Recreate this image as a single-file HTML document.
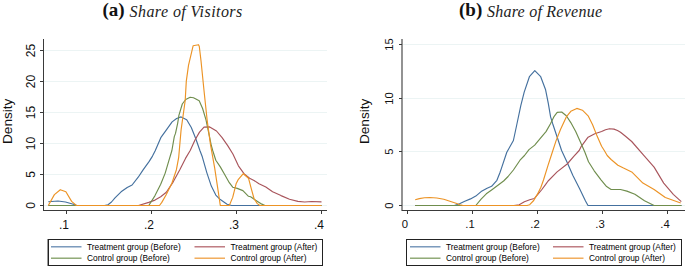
<!DOCTYPE html>
<html><head><meta charset="utf-8"><style>
html,body{margin:0;padding:0;background:#fff;}
body{width:685px;height:266px;overflow:hidden;position:relative;}
svg{position:absolute;left:0;top:0;}
.tk{font-family:"Liberation Sans",sans-serif;font-size:12px;fill:#111;}
.tk2{font-family:"Liberation Sans",sans-serif;font-size:11.3px;fill:#111;}
.ax{font-family:"Liberation Sans",sans-serif;font-size:13.6px;fill:#111;}
.lg{font-family:"Liberation Sans",sans-serif;font-size:8.33px;fill:#000;}
.tb{font-family:"Liberation Serif",serif;font-weight:bold;font-size:19px;fill:#111;}
.ti{font-family:"Liberation Serif",serif;font-style:italic;font-size:16px;fill:#222;}
</style></head><body>
<svg width="685" height="266" viewBox="0 0 685 266">
<text x="102.5" y="16" class="tb">(a)</text>
<text x="129.6" y="17" class="ti" textLength="112.6" lengthAdjust="spacing">Share of Visitors</text>
<text x="459" y="16" class="tb">(b)</text>
<text x="487" y="17" class="ti" textLength="115" lengthAdjust="spacing">Share of Revenue</text>
<line x1="44" y1="50.5" x2="327" y2="50.5" stroke="#ecf4f4" stroke-width="1"/>
<line x1="44" y1="81.5" x2="327" y2="81.5" stroke="#ecf4f4" stroke-width="1"/>
<line x1="44" y1="112.5" x2="327" y2="112.5" stroke="#ecf4f4" stroke-width="1"/>
<line x1="44" y1="143.5" x2="327" y2="143.5" stroke="#ecf4f4" stroke-width="1"/>
<line x1="44" y1="174.5" x2="327" y2="174.5" stroke="#ecf4f4" stroke-width="1"/>
<line x1="44" y1="205.5" x2="327" y2="205.5" stroke="#ecf4f4" stroke-width="1"/>
<polyline points="47.8,201.2 57.5,200.5 65,201.5 72,203.5 76,204.8 80,205 104,205 107.5,204.2 111,201.5 114.5,197.4 120.6,191.3 126.7,187 131.6,184.5 137.7,176.7 142.6,169.4 148.7,160.9 152,155.6 154.7,150.3 160.3,137.2 165.9,129.3 171.6,121.4 176.1,118 180.6,116.4 186.2,119.2 190.8,127 195.3,138.3 199.4,150 201.8,156.3 206.3,172.1 210.8,185.6 215.3,194.6 219.8,199.1 226.6,203.7 231,205 321,205" fill="none" stroke="#44709e" stroke-width="1.15" stroke-linejoin="round" transform="translate(0.5,0.5)"/>
<polyline points="47.8,205 138,205 148.3,201.9 154.5,199.6 160.2,196.2 165.8,191.7 172.6,181.6 179.3,169.2 185,157.9 189.7,150 194.5,139.5 199,131.6 203.5,126.6 209.2,126.4 216,130.5 221.6,137.2 227.2,145.1 232.4,153.5 237.9,165.3 243.5,173.2 249.1,177.7 253.5,179.9 258.5,183.3 265.3,186.6 272.1,191.2 280.5,195.1 289,198.8 297.4,200.9 304.2,201.5 311,201 321,201.4" fill="none" stroke="#a8545b" stroke-width="1.15" stroke-linejoin="round" transform="translate(0.5,0.5)"/>
<polyline points="47.8,205 148.3,205 154.5,195.1 160.2,183.8 164.7,172.6 168,161.3 171.4,150 173.8,136.1 175,132.9 177.2,122.6 178.4,114.8 181.8,103.5 185.2,99 189.7,96.8 193,97.2 198.7,100.2 202.1,108 205.5,119.3 208.8,135.1 210.8,145 212.2,150 215.3,159.7 219.8,166.4 224.3,174.3 228.8,182.2 232.2,186.7 236.7,187.9 242.4,190.1 248,195.8 250.1,196.3 255.1,199.7 260.2,203.1 264.5,205 321,205" fill="none" stroke="#6f8d4d" stroke-width="1.15" stroke-linejoin="round" transform="translate(0.5,0.5)"/>
<polyline points="47.8,205 53.9,194.1 59.8,189.2 65.4,191.3 71.1,200.9 75.6,204.8 76,205 159,205 161.3,201.9 165.8,194 171.4,182.7 175.9,169.2 178.2,156.8 180.6,129.3 184.7,100 185.8,80.6 188,64.8 192.6,45.3 198,44.2 198.8,46 200.5,60.3 203.5,90 206.6,119.3 210,144.1 214.2,167.6 217.6,190.1 219.8,205 228.8,205 232.2,196.9 235.6,183.3 237.9,178.8 242.8,173.2 248,177.7 250.9,188.7 253.5,198 256.8,203.1 259.4,205 321,205" fill="none" stroke="#ec9325" stroke-width="1.15" stroke-linejoin="round" transform="translate(0.5,0.5)"/>
<line x1="43.5" y1="39" x2="43.5" y2="211" stroke="#3a3a3a" stroke-width="1"/>
<line x1="43" y1="210.5" x2="327" y2="210.5" stroke="#3a3a3a" stroke-width="1"/>
<line x1="40" y1="50.5" x2="43" y2="50.5" stroke="#3a3a3a" stroke-width="1"/>
<line x1="40" y1="81.5" x2="43" y2="81.5" stroke="#3a3a3a" stroke-width="1"/>
<line x1="40" y1="112.5" x2="43" y2="112.5" stroke="#3a3a3a" stroke-width="1"/>
<line x1="40" y1="143.5" x2="43" y2="143.5" stroke="#3a3a3a" stroke-width="1"/>
<line x1="40" y1="174.5" x2="43" y2="174.5" stroke="#3a3a3a" stroke-width="1"/>
<line x1="40" y1="205.5" x2="43" y2="205.5" stroke="#3a3a3a" stroke-width="1"/>
<line x1="66.5" y1="211" x2="66.5" y2="214" stroke="#3a3a3a" stroke-width="1"/>
<line x1="151.5" y1="211" x2="151.5" y2="214" stroke="#3a3a3a" stroke-width="1"/>
<line x1="236.5" y1="211" x2="236.5" y2="214" stroke="#3a3a3a" stroke-width="1"/>
<line x1="321.5" y1="211" x2="321.5" y2="214" stroke="#3a3a3a" stroke-width="1"/>
<text x="0" y="0" transform="translate(34.5,50.5) rotate(-90)" class="tk" text-anchor="middle">25</text>
<text x="0" y="0" transform="translate(34.5,81.5) rotate(-90)" class="tk" text-anchor="middle">20</text>
<text x="0" y="0" transform="translate(34.5,112.5) rotate(-90)" class="tk" text-anchor="middle">15</text>
<text x="0" y="0" transform="translate(34.5,143.5) rotate(-90)" class="tk" text-anchor="middle">10</text>
<text x="0" y="0" transform="translate(34.5,174.5) rotate(-90)" class="tk" text-anchor="middle">5</text>
<text x="0" y="0" transform="translate(34.5,205.5) rotate(-90)" class="tk" text-anchor="middle">0</text>
<text x="64" y="228.5" class="tk" text-anchor="middle">.1</text>
<text x="149" y="228.5" class="tk" text-anchor="middle">.2</text>
<text x="234" y="228.5" class="tk" text-anchor="middle">.3</text>
<text x="319" y="228.5" class="tk" text-anchor="middle">.4</text>
<text x="0" y="0" transform="translate(11.7,121.3) rotate(-90)" class="ax" text-anchor="middle">Density</text>
<line x1="403" y1="44.5" x2="685" y2="44.5" stroke="#ecf4f4" stroke-width="1"/>
<line x1="403" y1="98.5" x2="685" y2="98.5" stroke="#ecf4f4" stroke-width="1"/>
<line x1="403" y1="151.5" x2="685" y2="151.5" stroke="#ecf4f4" stroke-width="1"/>
<line x1="403" y1="205.5" x2="685" y2="205.5" stroke="#ecf4f4" stroke-width="1"/>
<polyline points="414.7,205 453.8,205 459,203.3 464.3,200.7 470,198.4 475.3,195.6 480.6,191.1 486.6,187.7 491.1,185.8 496.4,179.8 499.4,172.3 501,167.6 506.3,151.8 512.9,140 516,125.5 520.3,105.1 523.7,91.6 528.9,76.2 534.3,70.2 540.2,76.2 545.1,89.3 547.8,102.9 550.1,116.4 552.2,123.2 556.7,136.7 561.1,150 566.7,162 572.4,175 579,188 585,200.5 587.5,205 681,205" fill="none" stroke="#44709e" stroke-width="1.15" stroke-linejoin="round" transform="translate(0.5,0.5)"/>
<polyline points="414.7,205 513.4,205 518.7,204.2 523.9,201.3 529.2,199.3 533.8,198 537.1,194.1 541,189.5 545,184.2 547.6,180.5 556.6,171.4 566.7,163.5 573.5,155.6 578.7,150 580.8,145.8 587.6,136.7 594.3,133.3 601.1,131 605,129.2 609,128.2 613.5,128.6 617,130 620,131.7 625,135.8 631.2,141 642.4,153.8 653.6,166.6 663.2,182.6 672.8,193.8 680.8,201.2" fill="none" stroke="#a8545b" stroke-width="1.15" stroke-linejoin="round" transform="translate(0.5,0.5)"/>
<polyline points="414.7,205 475.3,205 480.6,198.6 485.8,193.3 491.1,189.5 497.1,185 503.1,180.5 507.6,176 512.9,169.5 519.5,159.7 524,155 528.5,149.1 534.2,144.6 539.8,137.9 545.5,131.1 550,123.2 553.3,116.4 556.7,111.9 561.2,111.5 565.8,115.3 570.3,122.1 575.2,131.1 580.8,143.5 584.5,152 588,161.3 593.7,170.3 600.5,179.3 606.1,186.1 610.6,189 620,189 626.4,190.6 634.4,193.8 644,200.2 653.6,205 681,205" fill="none" stroke="#6f8d4d" stroke-width="1.15" stroke-linejoin="round" transform="translate(0.5,0.5)"/>
<polyline points="414.7,199.3 418.8,198.1 424,197.2 429.3,197 436.3,197.5 443.3,198.8 449.4,200.8 455.5,202.7 459.5,204.2 462.5,205 526.6,205 529.2,204.2 533.2,200 537.1,193.4 540.4,186.8 543,179.5 547.6,164.7 550.9,154.5 555.6,140.1 560.1,128.8 565.8,116.4 570.3,110.8 576.3,107.9 581.9,109.7 587.6,115.3 592.1,124.3 596.6,135.6 601.1,145.8 603.8,150 606.7,155 610.6,159 617.4,164.7 623,167.6 631.2,171.4 642.4,182.6 653.6,189 664.8,197 680.2,202.5" fill="none" stroke="#ec9325" stroke-width="1.15" stroke-linejoin="round" transform="translate(0.5,0.5)"/>
<line x1="402" y1="39" x2="402" y2="211" stroke="#3a3a3a" stroke-width="1.1"/>
<line x1="402" y1="210.5" x2="685" y2="210.5" stroke="#3a3a3a" stroke-width="1"/>
<line x1="399" y1="44.5" x2="402" y2="44.5" stroke="#3a3a3a" stroke-width="1"/>
<line x1="399" y1="98.5" x2="402" y2="98.5" stroke="#3a3a3a" stroke-width="1"/>
<line x1="399" y1="151.5" x2="402" y2="151.5" stroke="#3a3a3a" stroke-width="1"/>
<line x1="399" y1="205.5" x2="402" y2="205.5" stroke="#3a3a3a" stroke-width="1"/>
<line x1="407.5" y1="211" x2="407.5" y2="214" stroke="#3a3a3a" stroke-width="1"/>
<line x1="472.5" y1="211" x2="472.5" y2="214" stroke="#3a3a3a" stroke-width="1"/>
<line x1="537.5" y1="211" x2="537.5" y2="214" stroke="#3a3a3a" stroke-width="1"/>
<line x1="602.5" y1="211" x2="602.5" y2="214" stroke="#3a3a3a" stroke-width="1"/>
<line x1="667.5" y1="211" x2="667.5" y2="214" stroke="#3a3a3a" stroke-width="1"/>
<text x="0" y="0" transform="translate(392.7,44.5) rotate(-90)" class="tk2" text-anchor="middle">15</text>
<text x="0" y="0" transform="translate(392.7,98.5) rotate(-90)" class="tk2" text-anchor="middle">10</text>
<text x="0" y="0" transform="translate(392.7,151.5) rotate(-90)" class="tk2" text-anchor="middle">5</text>
<text x="0" y="0" transform="translate(392.7,205.5) rotate(-90)" class="tk2" text-anchor="middle">0</text>
<text x="405" y="228.3" class="tk2" text-anchor="middle">0</text>
<text x="470" y="228.3" class="tk2" text-anchor="middle">.1</text>
<text x="535" y="228.3" class="tk2" text-anchor="middle">.2</text>
<text x="600" y="228.3" class="tk2" text-anchor="middle">.3</text>
<text x="665" y="228.3" class="tk2" text-anchor="middle">.4</text>
<text x="0" y="0" transform="translate(368.8,121.4) rotate(-90)" class="ax" text-anchor="middle">Density</text>
<rect x="48.5" y="239.5" width="274" height="26" fill="#fff" stroke="#222" stroke-width="1"/>
<line x1="47.5" y1="239" x2="47.5" y2="266" stroke="#999" stroke-width="1"/>
<line x1="51" y1="246.8" x2="81.5" y2="246.8" stroke="#6589b2" stroke-width="1.3"/>
<text x="87" y="249.8" class="lg">Treatment group (Before)</text>
<line x1="194.5" y1="246.8" x2="225.0" y2="246.8" stroke="#b5676e" stroke-width="1.3"/>
<text x="230.5" y="249.8" class="lg">Treatment group (After)</text>
<line x1="51" y1="258.2" x2="81.5" y2="258.2" stroke="#7f9c61" stroke-width="1.3"/>
<text x="87" y="261.2" class="lg">Control group (Before)</text>
<line x1="194.5" y1="258.2" x2="225.0" y2="258.2" stroke="#efa043" stroke-width="1.3"/>
<text x="230.5" y="261.2" class="lg">Control group (After)</text>
<rect x="406.5" y="239.5" width="275" height="26" fill="#fff" stroke="#222" stroke-width="1"/>
<line x1="410" y1="246.8" x2="440.5" y2="246.8" stroke="#6589b2" stroke-width="1.3"/>
<text x="446" y="249.8" class="lg">Treatment group (Before)</text>
<line x1="553" y1="246.8" x2="583.5" y2="246.8" stroke="#b5676e" stroke-width="1.3"/>
<text x="589" y="249.8" class="lg">Treatment group (After)</text>
<line x1="410" y1="258.2" x2="440.5" y2="258.2" stroke="#7f9c61" stroke-width="1.3"/>
<text x="446" y="261.2" class="lg">Control group (Before)</text>
<line x1="553" y1="258.2" x2="583.5" y2="258.2" stroke="#efa043" stroke-width="1.3"/>
<text x="589" y="261.2" class="lg">Control group (After)</text>
</svg>
</body></html>
